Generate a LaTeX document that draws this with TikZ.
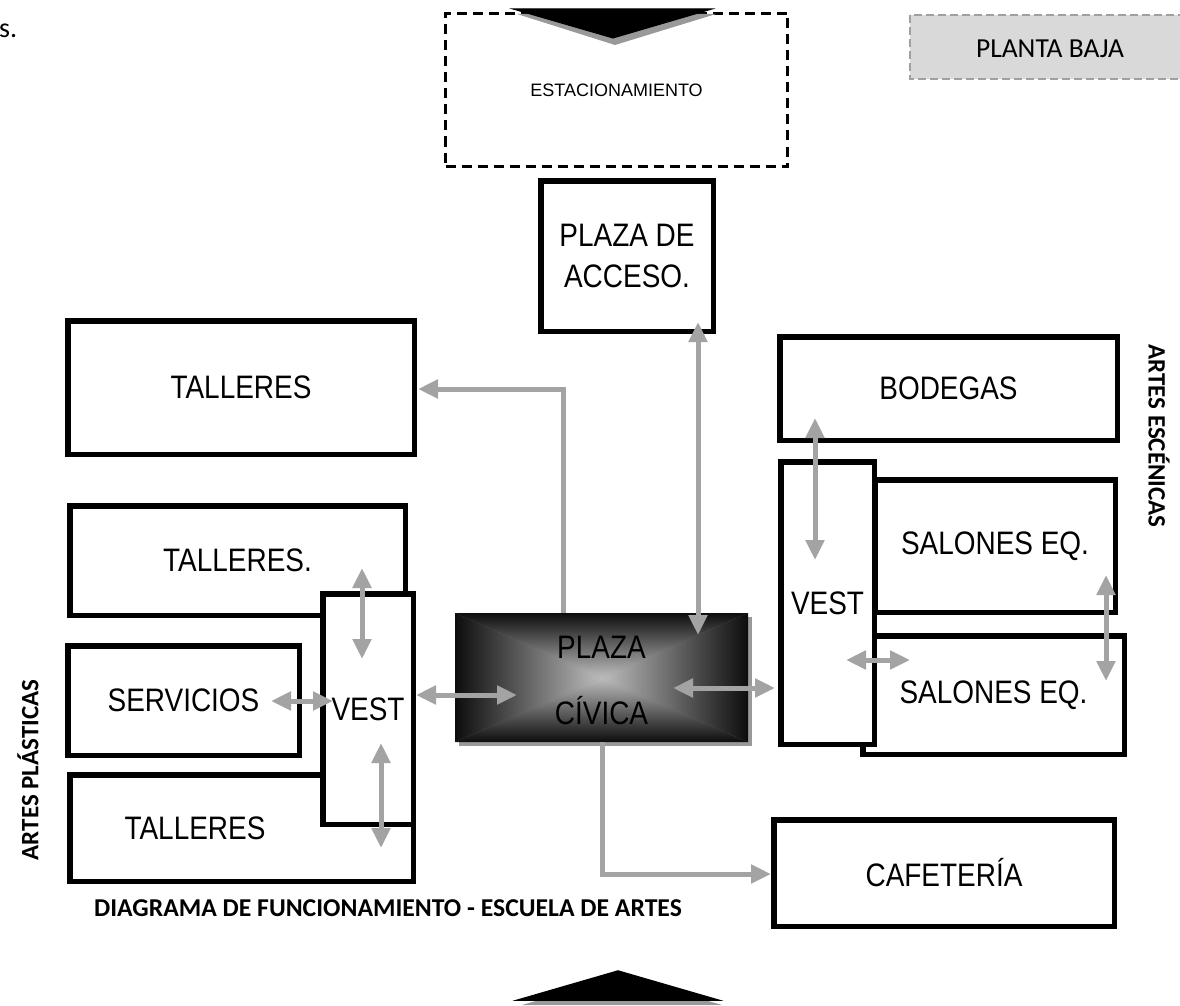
\documentclass[tikz,border=0pt]{standalone}
\usepackage{fontspec}
\setmainfont{Liberation Sans}
\newfontfamily\condfont[FakeStretch=0.86]{Liberation Sans}
\newfontfamily\arialfont{Liberation Sans}
\newfontfamily\calfont{Carlito}
\usetikzlibrary{arrows.meta}
\definecolor{arrgray}{HTML}{A3A3A3}
\definecolor{pbfill}{HTML}{D9D9D9}
\definecolor{pbdraw}{HTML}{A0A0A0}
\definecolor{shgray}{HTML}{999999}
\definecolor{pdark}{HTML}{0D0D0D}
\definecolor{pmid}{HTML}{7A7A7A}
\definecolor{plight}{HTML}{BDBDBD}
\definecolor{tmid}{HTML}{5A5A5A}
\begin{document}
\begin{tikzpicture}[x=1pt,y=-1pt,
  box/.style={draw=black, line width=5.5pt, fill=white, inner sep=0pt,
    font=\condfont\fontsize{32.5}{40}\selectfont, align=center},
  arr/.style={draw=arrgray, line width=5pt, -{Triangle[length=20pt,width=18pt]}},
  darr/.style={draw=arrgray, line width=5pt,
    {Triangle[length=20pt,width=18pt]}-{Triangle[length=20pt,width=18pt]}},
  lbl/.style={inner sep=0pt, font=\calfont\bfseries\fontsize{25}{30}\selectfont}]
\useasboundingbox (0,0) rectangle (1180,1006);

% fragment top-left
\node[inner sep=0pt, anchor=base west, font=\calfont\fontsize{28}{32}\selectfont] (frag) at (-1,38) {s.};

% planta baja
\draw[fill=pbfill, draw=pbdraw, line width=2.5pt, dash pattern=on 8pt off 4pt] (910,15) rectangle (1200,79);
\node[inner sep=0pt, font=\calfont\fontsize{27.5}{32}\selectfont] (pb) at (1050,49) {PLANTA BAJA};

% estacionamiento
\node[draw=black, line width=3pt, dash pattern=on 10pt off 6pt, minimum width=342pt, minimum height=153pt,
  inner sep=0pt, font=\arialfont\fontsize{18}{22}\selectfont] (est) at (616.5,90) {ESTACIONAMIENTO};

% top triangle
\fill[shgray] (517,14) -- (716,14) -- (615,45) -- cycle;
\shade[top color=black, middle color=tmid, bottom color=black, draw=black, line width=1pt]
  (513,9) -- (712,9) -- (613,38) -- cycle;

% boxes
\node[box, minimum width=172.5pt, minimum height=150.5pt, font=\condfont\fontsize{32.5}{41}\selectfont]
  (acceso) at (627,256) {PLAZA DE\\ACCESO.};
\node[box, minimum width=346.5pt, minimum height=133.5pt] (tall1) at (241,387.5) {TALLERES};
\node[box, minimum width=335.5pt, minimum height=109.5pt] (tall2) at (237.5,560.5) {TALLERES.};
\node[box, minimum width=343.5pt, minimum height=106.5pt] (tall3) at (241.5,828) {};
\node[inner sep=0pt, font=\condfont\fontsize{32.5}{40}\selectfont] (tall3t) at (195,828) {TALLERES};
\node[box, minimum width=231.5pt, minimum height=109.5pt] (serv) at (183.5,700.5) {SERVICIOS};
\node[box, minimum width=90.5pt, minimum height=230.5pt] (vestL) at (368,709) {VEST};

\node[box, minimum width=261.5pt, minimum height=118.5pt] (sal2) at (993.5,695) {SALONES EQ.};
\node[box, minimum width=93.5pt, minimum height=282.5pt] (vestR) at (827.5,603) {VEST};
\node[box, minimum width=240.5pt, minimum height=132.5pt] (sal1) at (995,546) {SALONES EQ.};
\node[box, minimum width=337.5pt, minimum height=103.5pt] (bod) at (948.5,388.5) {BODEGAS};
\node[box, minimum width=340.5pt, minimum height=106.5pt] (caf) at (944,873) {CAFETERÍA};

% plaza civica
\fill[shgray] (459,617) rectangle (752,746);
\fill[pmid] (455,613) rectangle (748,742);
\shade[top color=pdark, middle color=pmid, bottom color=plight] (455,613) -- (748,613) -- (601.5,677.5) -- cycle;
\shade[top color=plight, middle color=pmid, bottom color=pdark] (455,742) -- (748,742) -- (601.5,677.5) -- cycle;
\shade[left color=pdark, middle color=pmid, right color=plight] (455,613) -- (455,742) -- (601.5,677.5) -- cycle;
\shade[left color=plight, middle color=pmid, right color=pdark] (748,613) -- (748,742) -- (601.5,677.5) -- cycle;
\node[inner sep=0pt, minimum width=293pt, minimum height=129pt, align=center,
  font=\condfont\fontsize{32.5}{66}\selectfont] (plaza) at (601.5,680) {PLAZA\\CÍVICA};

% bottom triangle
\fill[shgray] (522,1005) -- (722,1005) -- (622,976) -- cycle;
\shade[top color=black, middle color=tmid, bottom color=black, draw=black, line width=1.5pt]
  (518,1000) -- (718,1000) -- (618,971) -- cycle;

% side labels and title
\node[lbl, rotate=-90] (esc) at (1159,436) {ARTES ESCÉNICAS};
\node[lbl, rotate=90] (plas) at (28,770) {ARTES PLÁSTICAS};
\node[lbl, font=\calfont\bfseries\fontsize{25.7}{30}\selectfont] (title) at (388,908) {DIAGRAMA DE FUNCIONAMIENTO - ESCUELA DE ARTES};

% arrow end coordinates
\coordinate (a1s) at (563,613);  \coordinate (a1e) at (418,389);
\coordinate (a2s) at (698,322);  \coordinate (a2e) at (698,635);
\coordinate (a3s) at (416,695);  \coordinate (a3e) at (517,695);
\coordinate (a4s) at (673,688);  \coordinate (a4e) at (775,688);
\coordinate (a5s) at (602,742);  \coordinate (a5e) at (771,874);
\coordinate (a6s) at (362,568);  \coordinate (a6e) at (362,659);
\coordinate (a7s) at (271,701);  \coordinate (a7e) at (333,701);
\coordinate (a8s) at (381,743);  \coordinate (a8e) at (381,848);
\coordinate (a9s) at (815,418);  \coordinate (a9e) at (815,560);
\coordinate (a10s) at (846,660); \coordinate (a10e) at (910,660);
\coordinate (a11s) at (1106,575); \coordinate (a11e) at (1106,681);

% arrows
\draw[arr] (a1s) |- (a1e);
\draw[darr] (a2s) -- (a2e);
\draw[darr] (a3s) -- (a3e);
\draw[darr] (a4s) -- (a4e);
\draw[arr] (a5s) |- (a5e);
\draw[darr] (a6s) -- (a6e);
\draw[darr] (a7s) -- (a7e);
\draw[darr] (a8s) -- (a8e);
\draw[darr] (a9s) -- (a9e);
\draw[darr] (a10s) -- (a10e);
\draw[darr] (a11s) -- (a11e);
\end{tikzpicture}
\end{document}
